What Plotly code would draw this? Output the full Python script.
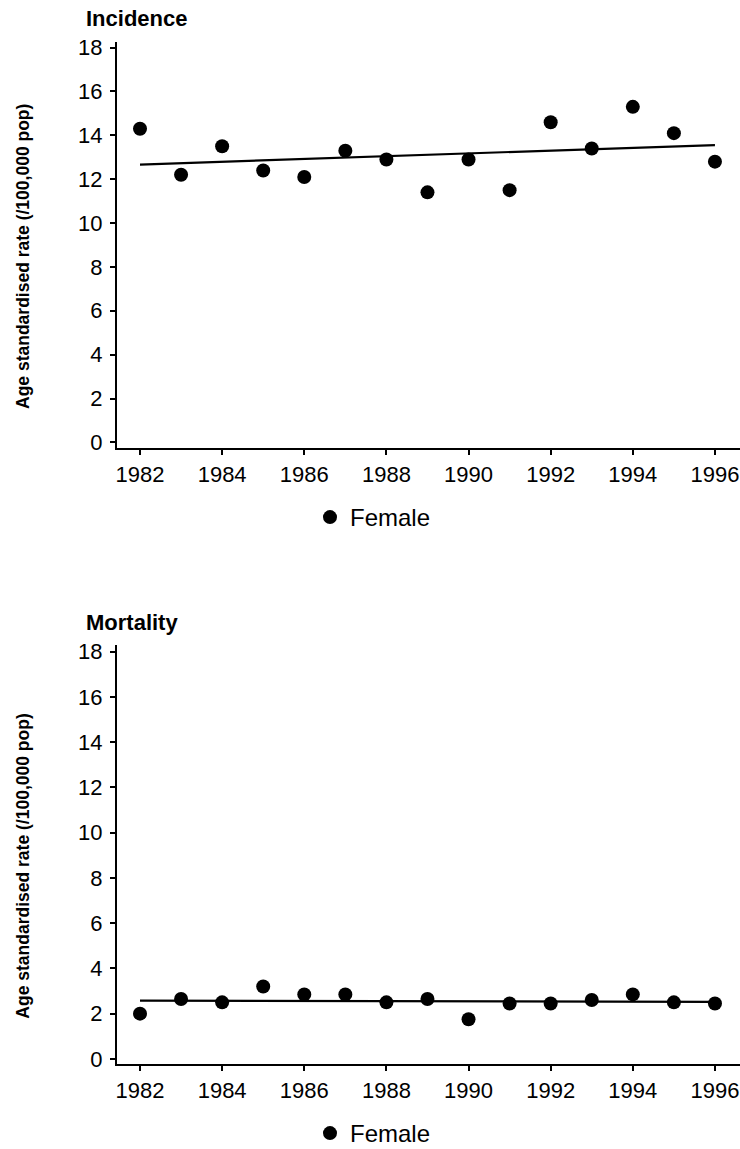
import numpy as np
import plotly.graph_objects as go
from plotly.subplots import make_subplots

# Age standardised rates per 100,000 population, females
years = [1982, 1983, 1984, 1985, 1986, 1987, 1988, 1989, 1990,
         1991, 1992, 1993, 1994, 1995, 1996]
incidence = [14.3, 12.2, 13.5, 12.4, 12.1, 13.3, 12.9, 11.4, 12.9,
             11.5, 14.6, 13.4, 15.3, 14.1, 12.8]
mortality = [2.0, 2.65, 2.5, 3.2, 2.85, 2.85, 2.5, 2.65, 1.75,
             2.45, 2.45, 2.6, 2.85, 2.5, 2.45]
panel_titles = ["Incidence", "Mortality"]
series_name = "Female"
y_title = "Age standardised rate (/100,000 pop)"
y_ticks = [0, 2, 4, 6, 8, 10, 12, 14, 16, 18]
x_ticks = [1982, 1984, 1986, 1988, 1990, 1992, 1994, 1996]

W, H = 740, 1149
FONT = "Arial, 'Liberation Sans', sans-serif"

fig = make_subplots(rows=2, cols=1)

x_dom = [117 / W, 1.0]
panels = [
    # (values, y-domain in px top/bottom, y-range, legend name)
    (incidence, 41.7, 448.3, [-0.27, 18.27], "legend"),
    (mortality, 645.0, 1064.3, [-0.24, 18.3], "legend2"),
]

for i, (vals, top_px, bot_px, yr, leg) in enumerate(panels, start=1):
    x = np.array(years, dtype=float)
    y = np.array(vals, dtype=float)
    slope, icpt = np.polyfit(x, y, 1)
    fit_x = [years[0], years[-1]]
    fit_y = [slope * v + icpt for v in fit_x]

    fig.add_trace(go.Scatter(
        x=fit_x, y=fit_y, mode="lines",
        line=dict(color="black", width=2.2),
        showlegend=False, hoverinfo="skip"), row=i, col=1)
    fig.add_trace(go.Scatter(
        x=years, y=vals, mode="markers", name=series_name,
        marker=dict(color="black", size=14, line=dict(width=0)),
        legend=leg), row=i, col=1)

    ax = "" if i == 1 else str(i)
    fig.layout["xaxis" + ax].update(
        domain=x_dom, range=[1981.44, 1996.61],
        tickmode="array", tickvals=x_ticks,
        ticks="outside", ticklen=5, tickwidth=1.5, tickcolor="black",
        showline=True, linecolor="black", linewidth=2,
        showgrid=False, zeroline=False,
        tickfont=dict(family=FONT, size=22, color="black"))
    fig.layout["yaxis" + ax].update(
        domain=[1 - bot_px / H, 1 - top_px / H], range=yr,
        tickmode="array", tickvals=y_ticks,
        ticks="outside", ticklen=5, tickwidth=1.5, tickcolor="black",
        showline=True, linecolor="black", linewidth=2,
        showgrid=False, zeroline=False, ticklabelstandoff=3,
        tickfont=dict(family=FONT, size=22, color="black"))

    # panel title and rotated axis title
    fig.add_annotation(
        text="<b>%s</b>" % panel_titles[i - 1], xref="paper", yref="paper",
        x=84 / W, y=1 - (top_px - 23) / H, xanchor="left", yanchor="middle",
        showarrow=False, font=dict(family=FONT, size=22, color="black"))
    fig.add_annotation(
        text="<b>%s</b>" % y_title, xref="paper", yref="paper",
        x=23 / W, y=1 - ((top_px + bot_px) / 2 + 12) / H,
        xanchor="center", yanchor="middle", textangle=-90,
        showarrow=False, font=dict(family=FONT, size=17.5, color="black"))

legend_style = dict(
    font=dict(family=FONT, size=24, color="black"),
    bgcolor="rgba(0,0,0,0)", borderwidth=0,
    xanchor="left", yanchor="top", valign="top")
fig.update_layout(
    legend=dict(x=310 / W, y=1 - 495 / H, **legend_style),
    legend2=dict(x=310 / W, y=1 - 1111 / H, **legend_style),
    width=W, height=H,
    margin=dict(l=0, r=0, t=0, b=0, autoexpand=False),
    paper_bgcolor="white", plot_bgcolor="white",
    font=dict(family=FONT, color="black"),
)

fig.write_html("out.html")
